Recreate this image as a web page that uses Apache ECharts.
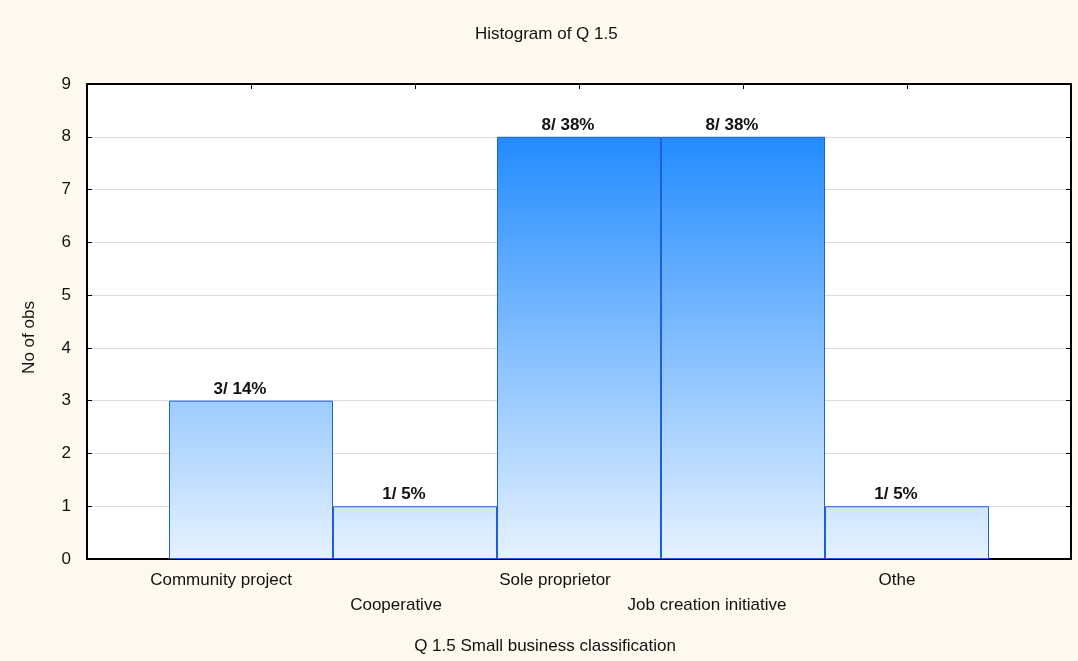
<!DOCTYPE html>
<html>
	<head>
		<meta charset="utf-8">
		<title>Histogram of Q 1.5</title>
		<script src="https://cdn.jsdelivr.net/npm/echarts@6/dist/echarts.min.js"></script>
		<style>
			html, body { margin: 0; padding: 0; background: #fdf9ef; }
		</style>
	</head>
	<body>
		<div id="main" style="width: 1078px;height:661px;"></div>
		<script>
			// categories, counts and percent labels
			var categories = ['Community project', 'Cooperative', 'Sole proprietor', 'Job creation initiative', 'Othe'];
			var counts = [3, 1, 8, 8, 1];
			var percents = ['14%', '5%', '38%', '38%', '5%'];
			var yTicks = [0, 1, 2, 3, 4, 5, 6, 7, 8, 9];

			// how far each label is pushed left (Statistica style offset)
			var labelPad = [60, 38, 48, 72, 20];

			var font = 'Liberation Sans, Arial, sans-serif';
			var gridLeft = 87, gridRight = 7, gridTop = 84, gridBottom = 102;
			var barW = (1078 - gridLeft - gridRight) / 6;

			var rich = {};
			categories.forEach(function(c, i) {
				rich['c' + i] = {
					fontSize: 17,
					fontFamily: font,
					color: '#111',
					padding: [i % 2 ? 25 : 0, labelPad[i], 0, 0]
				};
			});

			var axisLine = { show: true, onZero: false, lineStyle: { color: '#000', width: 2 } };
			var axisTick = { show: true, inside: true, length: 5, lineStyle: { color: '#000' } };

			var myChart = echarts.init(document.getElementById('main'));
			var option = {
				backgroundColor: '#fdf9ef',
				title: {
					text: 'Histogram of Q 1.5',
					left: 470,
					top: 21,
					textStyle: { fontSize: 17, fontWeight: 'normal', color: '#111', fontFamily: font }
				},
				grid: { left: gridLeft, right: gridRight, top: gridTop, bottom: gridBottom, show: true, backgroundColor: '#fff', borderWidth: 0 },
				xAxis: [{
					type: 'value',
					min: 0,
					max: 6,
					interval: 1,
					name: 'Q 1.5 Small business classification',
					nameLocation: 'middle',
					nameGap: 79,
					nameTextStyle: { fontSize: 17, color: '#111', fontFamily: font, padding: [0, 68, 0, 0] },
					axisLine: axisLine,
					axisTick: axisTick,
					splitLine: { show: false },
					axisLabel: {
						margin: 13,
						rich: rich,
						formatter: function(v) {
							if (v < 1 || v > 5) return '';
							var i = v - 1;
							return '{c' + i + '|' + categories[i] + '}';
						}
					}
				}, {
					type: 'value',
					position: 'top',
					min: 0,
					max: 6,
					interval: 1,
					axisLine: axisLine,
					axisTick: axisTick,
					axisLabel: { show: false },
					splitLine: { show: false }
				}],
				yAxis: [{
					type: 'value',
					min: yTicks[0],
					max: yTicks[yTicks.length - 1],
					interval: 1,
					name: 'No of obs',
					nameLocation: 'middle',
					nameGap: 49,
					nameTextStyle: { fontSize: 17, color: '#111', fontFamily: font, padding: [0, 32, 0, 0] },
					axisLine: axisLine,
					axisTick: axisTick,
					axisLabel: { fontSize: 17, color: '#111', fontFamily: font, margin: 16 },
					splitLine: { lineStyle: { color: '#dcdcdc' } }
				}, {
					type: 'value',
					position: 'right',
					min: yTicks[0],
					max: yTicks[yTicks.length - 1],
					interval: 1,
					axisLine: axisLine,
					axisTick: axisTick,
					axisLabel: { show: false },
					splitLine: { show: false }
				}],
				series: [{
					type: 'bar',
					barWidth: barW,
					data: counts.map(function(c, i) { return [i + 1, c]; }),
					itemStyle: {
						color: new echarts.graphic.LinearGradient(0, gridTop, 0, 661 - gridBottom, [
							{ offset: 0, color: '#0a7fff' },
							{ offset: 1, color: '#e6f2ff' }
						], true),
						borderColor: '#1d5fd6',
						borderWidth: 1
					},
					label: {
						show: true,
						position: 'top',
						distance: 3,
						offset: [-11, 0],
						fontSize: 17,
						fontWeight: 'bold',
						color: '#111',
						fontFamily: font,
						formatter: function(p) { return counts[p.dataIndex] + '/ ' + percents[p.dataIndex]; }
					}
				}]
			};
			myChart.setOption(option);
		</script>
	</body>
</html>
